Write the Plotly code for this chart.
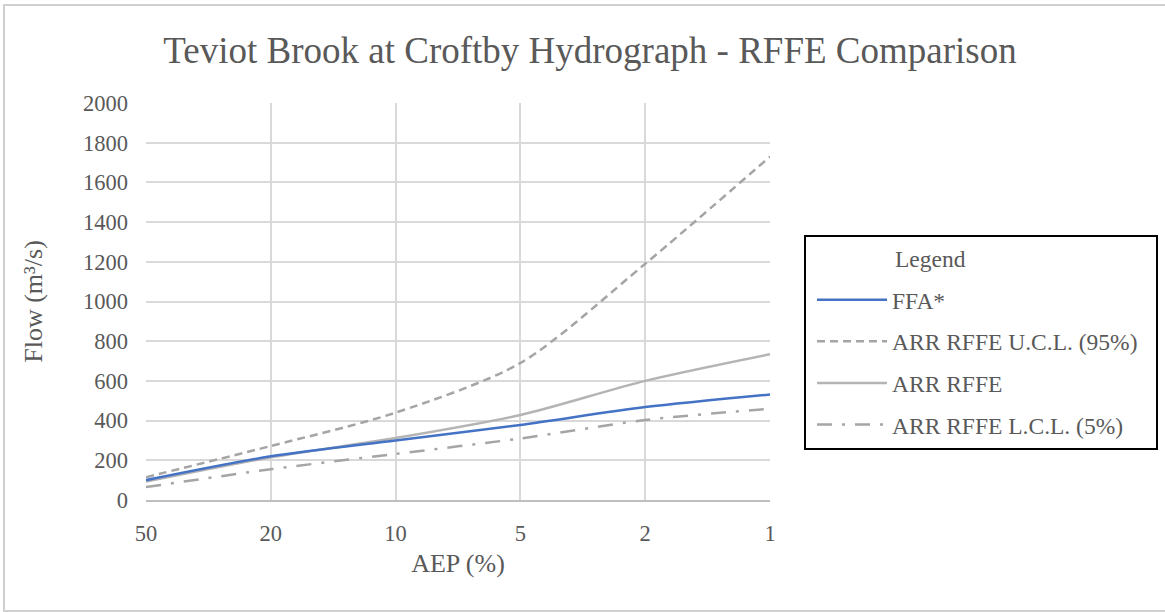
import plotly.graph_objects as go

aep_labels = ["50", "20", "10", "5", "2", "1"]
ffa = [100, 220, 300, 378, 468, 532]
ucl = [115, 272, 440, 690, 1190, 1730]
rffe = [93, 215, 312, 428, 600, 734]
lcl = [65, 155, 232, 310, 403, 460]
y_ticks = list(range(0, 2001, 200))

FONT = "Liberation Serif"
TXT = "#595959"
GRID = "#d9d9d9"

fig = go.Figure()
fig.add_trace(go.Scatter(x=aep_labels, y=ucl, mode="lines", name="ARR RFFE U.C.L. (95%)",
                         line=dict(color="#a5a5a5", width=2.5, dash="8px,5px", shape="spline", smoothing=0.8),
                         legendrank=2, legendgroup="b"))
fig.add_trace(go.Scatter(x=aep_labels, y=rffe, mode="lines", name="ARR RFFE",
                         line=dict(color="#b4b4b4", width=2.5, shape="spline", smoothing=0.8),
                         legendrank=3, legendgroup="c"))
fig.add_trace(go.Scatter(x=aep_labels, y=lcl, mode="lines", name="ARR RFFE L.C.L. (5%)",
                         line=dict(color="#a5a5a5", width=2.5, dash="15px,10px,3px,10px", shape="spline", smoothing=0.8),
                         legendrank=4, legendgroup="d"))
fig.add_trace(go.Scatter(x=aep_labels, y=ffa, mode="lines", name="FFA*",
                         line=dict(color="#4472c4", width=2.5, shape="spline", smoothing=0.8),
                         legendrank=1, legendgroup="a"))

L, R, T, B = 146, 770, 103, 500
W, H = 1165, 612
pw, ph = R - L, B - T

def px(x):
    return (x - L) / pw

def py(y):
    return (B - y) / ph

fig.update_layout(
    width=W, height=H,
    margin=dict(l=L, r=W - R, t=T, b=H - B),
    paper_bgcolor="white", plot_bgcolor="white",
    font=dict(family=FONT, color=TXT),
    title=dict(text="Teviot Brook at Croftby Hydrograph - RFFE Comparison",
               x=590 / W, xref="container", xanchor="center",
               y=1 - 50 / H, yref="container", yanchor="middle",
               font=dict(family=FONT, size=37, color=TXT)),
    xaxis=dict(type="category", range=[0, 5], showgrid=True, gridcolor=GRID, gridwidth=1.5,
               showline=True, linecolor="#bfbfbf", linewidth=1.5, ticks="",
               tickfont=dict(family=FONT, size=22.5, color=TXT), ticklabelstandoff=12,
               title=dict(text="AEP (%)", font=dict(family=FONT, size=26, color=TXT), standoff=9),
               zeroline=False, fixedrange=True),
    yaxis=dict(range=[0, 2000], tickvals=y_ticks, showgrid=True, gridcolor=GRID, gridwidth=1.5,
               zeroline=False, showline=False, ticks="",
               tickfont=dict(family=FONT, size=22.5, color=TXT), ticklabelstandoff=17,
               title=dict(text="Flow (m³/s)", font=dict(family=FONT, size=26, color=TXT), standoff=32)),
    showlegend=True,
    legend=dict(x=px(812), xanchor="left", y=py(278), yanchor="top",
                bgcolor="rgba(0,0,0,0)", borderwidth=0,
                font=dict(family=FONT, size=23.5, color=TXT),
                itemwidth=70, tracegroupgap=8, traceorder="grouped"),
    annotations=[
        dict(text="Legend", xref="paper", yref="paper", x=px(893), y=py(259),
             xanchor="left", yanchor="middle", showarrow=False,
             font=dict(family=FONT, size=23.5, color=TXT)),
    ],
    shapes=[
        dict(type="rect", xref="paper", yref="paper",
             x0=px(805), x1=px(1157), y0=py(449), y1=py(236),
             line=dict(color="black", width=2), fillcolor="rgba(0,0,0,0)", layer="above"),
        dict(type="rect", xref="paper", yref="paper",
             x0=px(4), x1=px(1175), y0=py(611), y1=py(5),
             line=dict(color="#d0d0d0", width=2), fillcolor="rgba(0,0,0,0)", layer="below"),
    ],
)

fig.write_html("out.html")
